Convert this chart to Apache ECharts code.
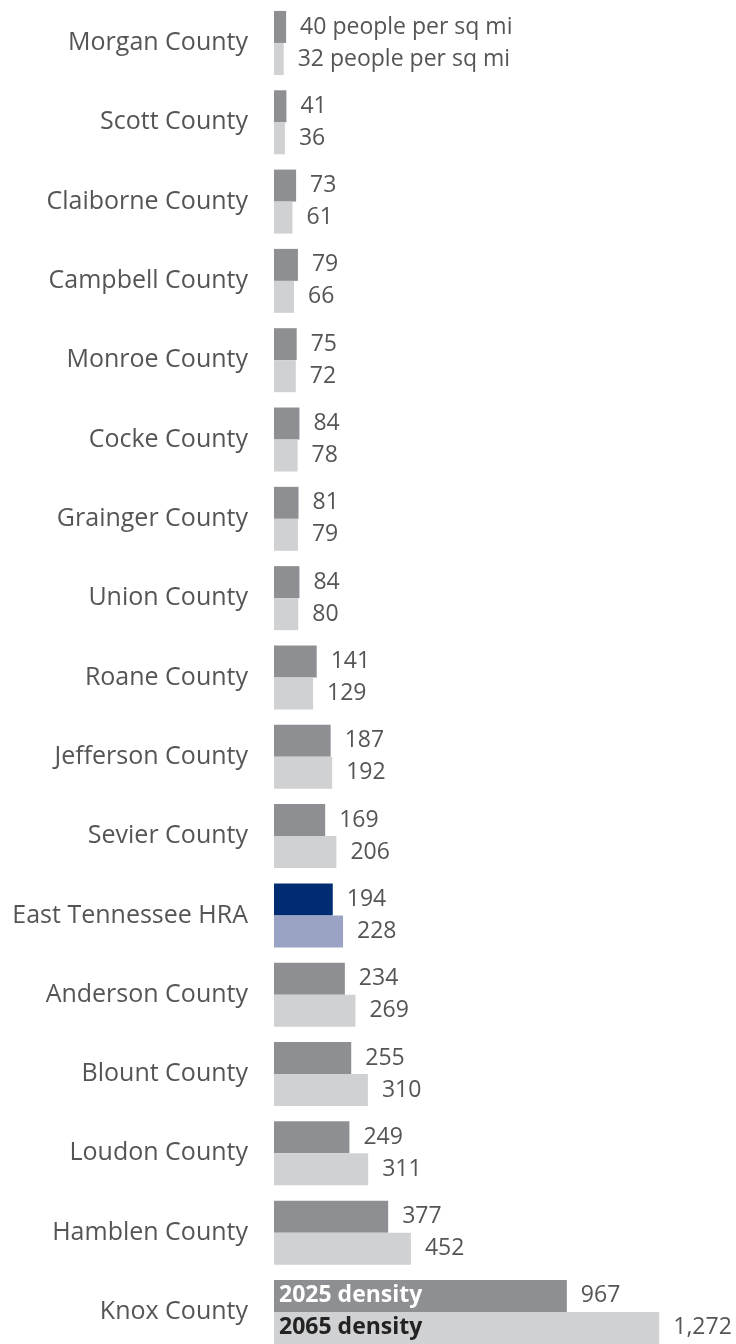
<!DOCTYPE html>
<html>
<head>
<meta charset="utf-8">
<script src="https://cdn.jsdelivr.net/npm/echarts@6/dist/echarts.min.js"></script>
<style>
  html, body { margin: 0; padding: 0; background: #fff; overflow: hidden; }
  #chart { width: 736px; height: 1352px; }
</style>
</head>
<body>
<div id="chart"></div>
<script>
// Population density by county, people per square mile
const counties = [
  'Morgan County', 'Scott County', 'Claiborne County', 'Campbell County',
  'Monroe County', 'Cocke County', 'Grainger County', 'Union County',
  'Roane County', 'Jefferson County', 'Sevier County', 'East Tennessee HRA',
  'Anderson County', 'Blount County', 'Loudon County', 'Hamblen County',
  'Knox County'
];
const density2025 = [40, 41, 73, 79, 75, 84, 81, 84, 141, 187, 169, 194, 234, 255, 249, 377, 967];
const density2065 = [32, 36, 61, 66, 72, 78, 79, 80, 129, 192, 206, 228, 269, 310, 311, 452, 1272];
const seriesNames = ['2025 density', '2065 density'];
const highlightName = 'East Tennessee HRA';
const keyName = 'Knox County';

const FONT = '"Open Sans", "Noto Sans", sans-serif';
const colors = {
  dark: '#8e8f93', light: '#d0d1d3',
  hlDark: '#002d72', hlLight: '#9aa3c4',
  text: '#555555'
};

function fmt(v) { return Number(v).toLocaleString('en-US'); }

function barData(values, base, hl) {
  return values.map((v, i) => counties[i] === highlightName
    ? { value: v, itemStyle: { color: hl } }
    : { value: v, itemStyle: { color: base } });
}

const valueLabel = {
  show: true,
  position: 'right',
  distance: 14,
  color: colors.text,
  fontFamily: FONT,
  fontSize: 23,
  formatter: p => p.dataIndex === 0 ? fmt(p.value) + ' people per sq mi' : fmt(p.value)
};

// Series-name captions drawn inside the last category's bars
function captionData(values) {
  return values.map((v, i) => counties[i] === keyName ? v : '-');
}

const chart = echarts.init(document.getElementById('chart'), null, { renderer: 'canvas' });
chart.setOption({
  animation: false,
  grid: { left: 274, top: 3.3, width: 424, height: 1348.3, containLabel: false },
  xAxis: {
    type: 'value', min: 0, max: 1400, show: false
  },
  yAxis: [{
    type: 'category', data: counties, inverse: true,
    axisLine: { show: false }, axisTick: { show: false },
    axisLabel: { color: colors.text, fontFamily: FONT, fontSize: 25, margin: 26 }
  }, {
    type: 'category', data: counties, inverse: true, show: false
  }],
  series: [{
    name: seriesNames[0], type: 'bar', yAxisIndex: 0,
    barWidth: 32, barGap: '0%',
    data: barData(density2025, colors.dark, colors.hlDark),
    label: valueLabel
  }, {
    name: seriesNames[1], type: 'bar', yAxisIndex: 0,
    barWidth: 32, barGap: '0%',
    data: barData(density2065, colors.light, colors.hlLight),
    label: valueLabel
  }, {
    name: seriesNames[0] + ' caption', type: 'bar', yAxisIndex: 1,
    barWidth: 32, barGap: '0%', silent: true,
    itemStyle: { color: 'rgba(0,0,0,0)' },
    data: captionData(density2025),
    label: {
      show: true, position: 'insideLeft', distance: 5,
      formatter: seriesNames[0], color: '#ffffff',
      fontFamily: FONT, fontSize: 23, fontWeight: 'bold'
    }
  }, {
    name: seriesNames[1] + ' caption', type: 'bar', yAxisIndex: 1,
    barWidth: 32, barGap: '0%', silent: true,
    itemStyle: { color: 'rgba(0,0,0,0)' },
    data: captionData(density2065),
    label: {
      show: true, position: 'insideLeft', distance: 5,
      formatter: seriesNames[1], color: '#222222',
      fontFamily: FONT, fontSize: 23, fontWeight: 'bold'
    }
  }]
});
</script>
</body>
</html>
